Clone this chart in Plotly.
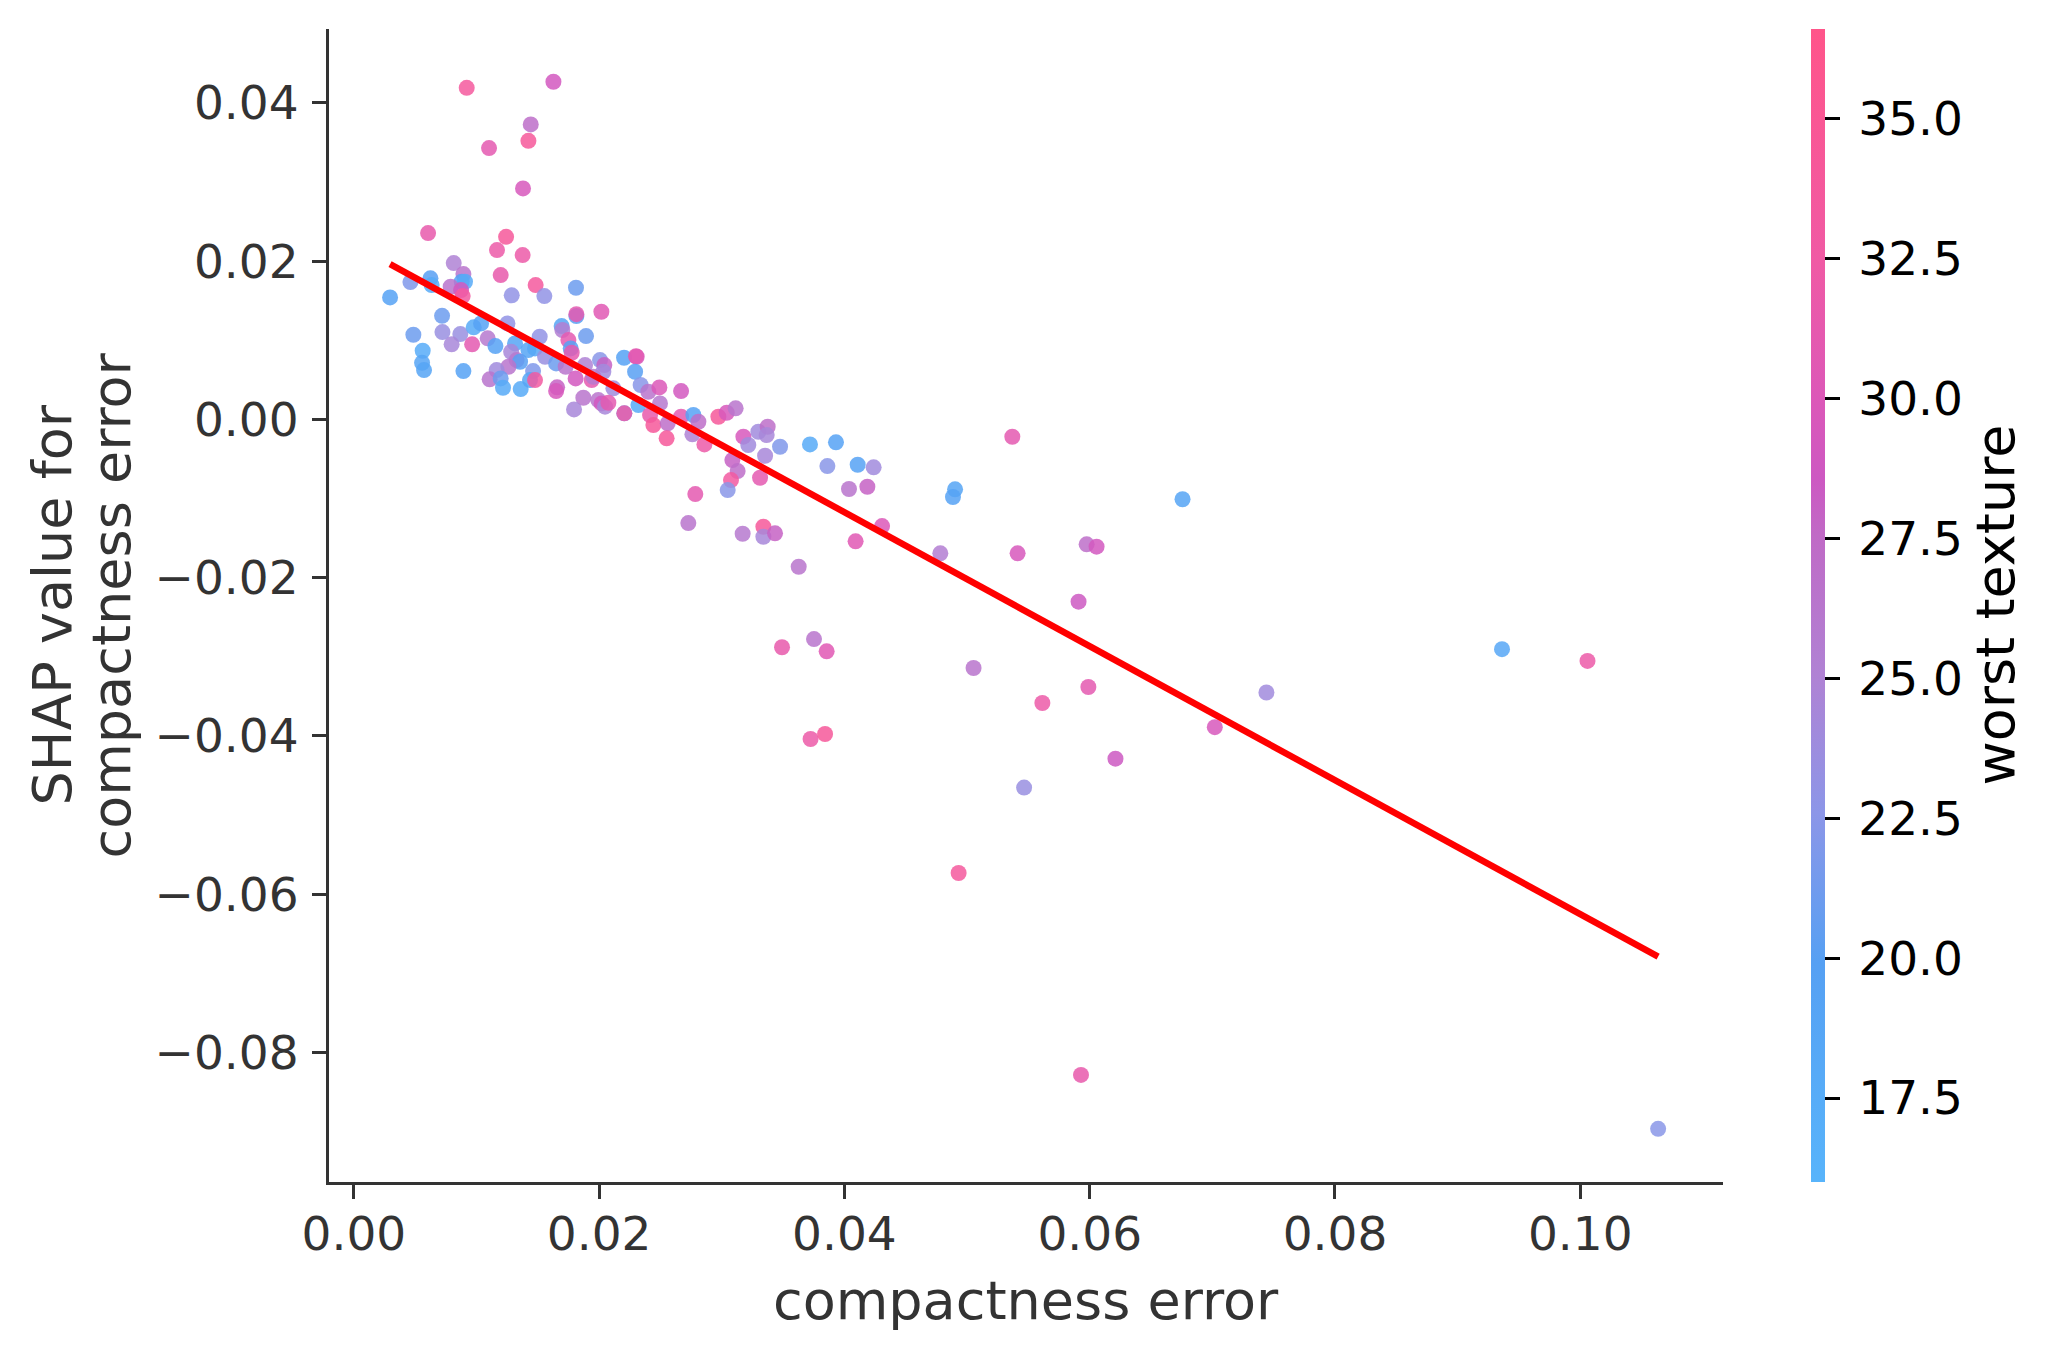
import plotly.graph_objects as go

# ---------------- data ----------------
compactness_error = [
    0.00920, 0.01627, 0.01442, 0.01423, 0.01102, 0.01379, 0.00605, 0.01241, 0.01167, 0.01376,
    0.01197, 0.00814, 0.00893, 0.00461, 0.00624, 0.00634, 0.00879, 0.00906, 0.00789, 0.00874,
    0.00887, 0.00295, 0.01287, 0.01482, 0.01553, 0.01811, 0.02018, 0.01814, 0.01814, 0.00719,
    0.00485, 0.00722, 0.00868, 0.00797, 0.00964, 0.00977, 0.01037, 0.01252, 0.01091, 0.01154,
    0.00561, 0.00556, 0.00572, 0.00893, 0.01694, 0.01700, 0.01515, 0.01893, 0.01749, 0.01768,
    0.01776, 0.01314, 0.01423, 0.01477, 0.01282, 0.01327, 0.01355, 0.01260, 0.01164, 0.01559,
    0.01461, 0.01649, 0.01107, 0.01197, 0.01216, 0.01360, 0.01436, 0.01477, 0.01657, 0.01649,
    0.01727, 0.01808, 0.01885, 0.02007, 0.02042, 0.02034, 0.01939, 0.01953, 0.02203, 0.02306,
    0.02300, 0.02293, 0.02338, 0.02401, 0.02496, 0.02491, 0.02668, 0.02116, 0.01871, 0.01795,
    0.01993, 0.02020, 0.02048, 0.02075, 0.02205, 0.02205, 0.02320, 0.02415, 0.02442, 0.02559,
    0.02550, 0.02668, 0.02768, 0.02809, 0.02760, 0.02858, 0.02972, 0.03040, 0.03113, 0.03176,
    0.03216, 0.03298, 0.03374, 0.03366, 0.03475, 0.03719, 0.03931, 0.03353, 0.03086, 0.03129,
    0.03075, 0.03048, 0.03312, 0.02784, 0.02727, 0.03170, 0.03339, 0.03339, 0.03434, 0.03627,
    0.03861, 0.04108, 0.04238, 0.04037, 0.04187, 0.05369, 0.04902, 0.04885, 0.04307, 0.04091,
    0.04782, 0.05412, 0.05975, 0.06056, 0.05909, 0.03491, 0.03752, 0.03855, 0.05053, 0.05614,
    0.05989, 0.06757, 0.09362, 0.10059, 0.07441, 0.07020, 0.06210, 0.05465, 0.04931, 0.05929,
    0.10635, 0.03724, 0.03842,
]
shap_values = [
    0.04191, 0.04267, 0.03728, 0.03521, 0.03429, 0.02920, 0.02355, 0.02308, 0.02140, 0.02077,
    0.01824, 0.01976, 0.01837, 0.01736, 0.01783, 0.01698, 0.01740, 0.01740, 0.01677, 0.01635,
    0.01559, 0.01542, 0.01568, 0.01698, 0.01559, 0.01664, 0.01361, 0.01306, 0.01330, 0.01310,
    0.01070, 0.01104, 0.01079, 0.00949, 0.00949, 0.01164, 0.01214, 0.01214, 0.01025, 0.00927,
    0.00868, 0.00716, 0.00624, 0.00611, 0.01180, 0.01130, 0.01045, 0.01054, 0.01003, 0.00898,
    0.00843, 0.00961, 0.00877, 0.00898, 0.00855, 0.00750, 0.00729, 0.00666, 0.00624, 0.00792,
    0.00611, 0.00708, 0.00507, 0.00519, 0.00401, 0.00384, 0.00498, 0.00498, 0.00406, 0.00359,
    0.00666, 0.00519, 0.00687, 0.00750, 0.00687, 0.00603, 0.00498, 0.00540, 0.00780, 0.00792,
    0.00800, 0.00603, 0.00435, 0.00350, 0.00203, 0.00405, 0.00359, 0.00393, 0.00274, 0.00127,
    0.00245, 0.00203, 0.00161, 0.00211, 0.00077, 0.00077, 0.00182, 0.00056, -0.00071, -0.00049,
    -0.00239, 0.00034, 0.00056, -0.00029, -0.00188, -0.00315, 0.00034, 0.00085, 0.00140, -0.00218,
    -0.00323, -0.00155, -0.00092, -0.00197, -0.00345, -0.00315, -0.00289, -0.00459, -0.00513, -0.00652,
    -0.00766, -0.00892, -0.00737, -0.00943, -0.01309, -0.01444, -0.01356, -0.01482, -0.01439, -0.01861,
    -0.00589, -0.00572, -0.00605, -0.00879, -0.00850, -0.00219, -0.00883, -0.00980, -0.01347, -0.01540,
    -0.01692, -0.01692, -0.01578, -0.01608, -0.02303, -0.02879, -0.02775, -0.02930, -0.03141, -0.03583,
    -0.03381, -0.01008, -0.02903, -0.03051, -0.03450, -0.03888, -0.04286, -0.04652, -0.05731, -0.08283,
    -0.08964, -0.04038, -0.03975,
]
worst_texture = [
    33.5, 29.0, 27.0, 34.0, 31.0, 29.5, 31.5, 34.0, 32.0, 32.0,
    31.5, 25.0, 26.5, 22.0, 20.0, 18.0, 19.5, 18.0, 26.5, 29.0,
    33.0, 19.5, 23.0, 33.5, 23.0, 21.0, 30.5, 20.0, 31.0, 21.0,
    21.0, 23.5, 23.5, 24.5, 31.0, 18.0, 19.5, 23.0, 26.0, 19.5,
    17.5, 19.0, 19.0, 19.5, 19.0, 25.5, 23.0, 21.0, 31.0, 19.5,
    31.0, 19.0, 19.0, 18.5, 24.5, 26.0, 20.0, 26.5, 24.0, 23.5,
    22.0, 21.0, 26.5, 21.0, 18.0, 18.0, 19.0, 33.0, 28.0, 29.5,
    26.5, 29.0, 25.0, 22.5, 28.0, 24.0, 31.0, 26.0, 19.5, 29.5,
    31.0, 20.0, 22.5, 26.5, 26.0, 30.0, 29.0, 24.0, 26.5, 24.5,
    26.5, 29.0, 24.5, 31.0, 21.0, 32.0, 18.0, 31.5, 34.0, 27.0,
    34.0, 31.0, 19.5, 27.0, 25.0, 32.0, 34.0, 29.5, 26.5, 29.5,
    24.0, 24.0, 27.0, 24.5, 22.0, 18.0, 19.5, 24.5, 28.0, 27.0,
    33.0, 22.5, 31.0, 31.0, 26.5, 26.0, 34.0, 24.5, 28.0, 26.5,
    22.5, 19.5, 24.0, 26.5, 28.0, 31.0, 19.0, 19.5, 30.0, 30.5,
    25.5, 29.5, 27.0, 29.0, 28.5, 31.5, 26.5, 30.5, 26.5, 32.0,
    31.0, 19.0, 18.5, 32.0, 24.0, 29.5, 28.5, 23.5, 33.5, 31.5,
    22.5, 32.0, 34.0,
]

# trend line end points
trend_x = [0.00295, 0.10635]
trend_y = [0.01964, -0.06789]

x_tick_vals = [0.00, 0.02, 0.04, 0.06, 0.08, 0.10]
x_tick_text = ["0.00", "0.02", "0.04", "0.06", "0.08", "0.10"]
y_tick_vals = [0.04, 0.02, 0.00, -0.02, -0.04, -0.06, -0.08]
y_tick_text = ["0.04", "0.02", "0.00", "\u22120.02", "\u22120.04", "\u22120.06", "\u22120.08"]
cb_tick_vals = [17.5, 20.0, 22.5, 25.0, 27.5, 30.0, 32.5, 35.0]
cb_tick_text = ["17.5", "20.0", "22.5", "25.0", "27.5", "30.0", "32.5", "35.0"]

x_label = "compactness error"
y_label_lines = ["SHAP value for", "compactness error"]
color_label = "worst texture"

x_range = [-0.00203, 0.11164]
y_range = [-0.09636, 0.04934]
c_range = [16.0, 36.6]

# ---------------- style ----------------
FONT = "DejaVu Sans"
AXIS_COLOR = "#333333"
TICK_SIZE = 47
TITLE_SIZE = 54
colorscale = [
    [0.00, "rgb(88,180,251)"],
    [0.19, "rgb(86,160,243)"],
    [0.32, "rgb(140,150,232)"],
    [0.44, "rgb(176,130,212)"],
    [0.56, "rgb(192,106,198)"],
    [0.61, "rgb(205,88,194)"],
    [0.68, "rgb(220,88,184)"],
    [0.80, "rgb(240,90,164)"],
    [1.00, "rgb(255,85,138)"],
]

W, H = 2055, 1357
L, R, T, B = 329, 332, 29, 175
plot_w = W - L - R
plot_right = W - R

fig = go.Figure()
fig.add_trace(go.Scatter(
    x=compactness_error, y=shap_values, mode="markers",
    marker=dict(
        size=16, color=worst_texture, colorscale=colorscale,
        cmin=c_range[0], cmax=c_range[1], opacity=0.85, line=dict(width=0),
        colorbar=dict(
            thickness=14, len=1.0, lenmode="fraction", y=0.5, yanchor="middle",
            x=1 + (1811 - plot_right) / plot_w, xanchor="left", xpad=0, ypad=0,
            outlinewidth=0, ticks="outside", ticklen=15, tickwidth=3, tickcolor="black",
            tickvals=cb_tick_vals, ticktext=["\u2009" + t for t in cb_tick_text],
            tickfont=dict(family=FONT, size=TICK_SIZE, color="black"),
        ),
    ),
    showlegend=False, hoverinfo="skip",
))
fig.add_trace(go.Scatter(
    x=trend_x, y=trend_y, mode="lines",
    line=dict(color="#ff0000", width=6.5), showlegend=False, hoverinfo="skip",
))

annotations = [
    dict(text=x_label, xref="paper", yref="paper", x=0.5, y=0,
         xanchor="center", yanchor="middle", yshift=-118, showarrow=False,
         font=dict(family=FONT, size=TITLE_SIZE, color=AXIS_COLOR)),
    dict(text=color_label, xref="paper", yref="paper", x=1, y=0.5,
         xanchor="center", yanchor="middle", xshift=1995 - plot_right,
         textangle=-90, showarrow=False,
         font=dict(family=FONT, size=TITLE_SIZE, color="black")),
]
for line_text, cx in zip(y_label_lines, [52, 111]):
    annotations.append(dict(
        text=line_text, xref="paper", yref="paper", x=0, y=0.5,
        xanchor="center", yanchor="middle", xshift=cx - L,
        textangle=-90, showarrow=False,
        font=dict(family=FONT, size=TITLE_SIZE, color=AXIS_COLOR)))

fig.update_layout(
    width=W, height=H,
    margin=dict(l=L, r=R, t=T, b=B, autoexpand=False),
    paper_bgcolor="white", plot_bgcolor="white",
    font=dict(family=FONT, color=AXIS_COLOR),
    xaxis=dict(
        range=x_range, showgrid=False, zeroline=False,
        showline=True, linecolor=AXIS_COLOR, linewidth=3,
        ticks="outside", ticklen=14, tickwidth=3, tickcolor=AXIS_COLOR,
        tickvals=x_tick_vals, ticktext=x_tick_text,
        tickfont=dict(family=FONT, size=TICK_SIZE, color=AXIS_COLOR),
        ticklabelstandoff=-5,
    ),
    yaxis=dict(
        range=y_range, showgrid=False, zeroline=False,
        showline=True, linecolor=AXIS_COLOR, linewidth=3,
        ticks="outside", ticklen=14, tickwidth=3, tickcolor=AXIS_COLOR,
        tickvals=y_tick_vals, ticktext=y_tick_text,
        tickfont=dict(family=FONT, size=TICK_SIZE, color=AXIS_COLOR),
        ticklabelstandoff=4,
    ),
    annotations=annotations,
)

fig.write_html("out.html")
